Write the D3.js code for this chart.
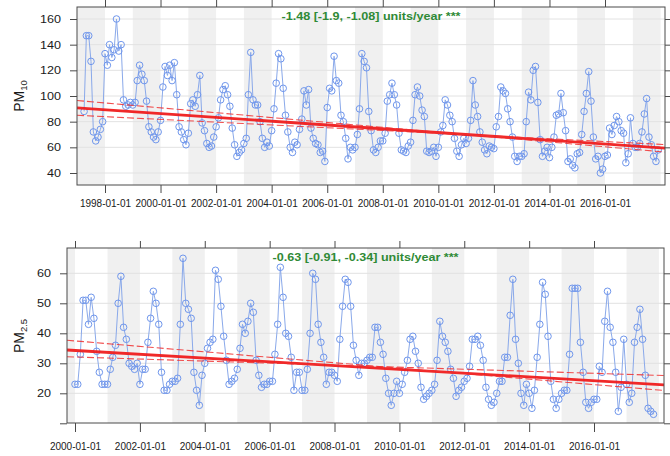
<!DOCTYPE html>
<html><head><meta charset="utf-8">
<script src="https://cdn.jsdelivr.net/npm/d3@7"></script>
<style>body{margin:0;background:#fff}</style>
</head><body>
<svg id="c" width="670" height="456"></svg>
<script>
// ---------------- DATA ----------------
const pm10Start = "1997-04-01";
const pm10Values = [
  88,147,147,127,72,65,68,74,80,
  133,124,140,130,136,160,135,140,97,92,93,95,
  93,95,112,124,117,112,96,76,72,68,66,72,
  81,107,123,116,124,112,126,101,76,72,66,62,
  71,94,97,92,101,116,79,73,63,60,61,68,
  76,83,97,105,108,101,92,75,62,53,56,58,
  63,67,101,134,97,93,93,80,67,60,64,61,
  73,90,110,133,129,106,85,72,60,56,64,62,
  74,82,104,93,105,75,67,63,62,56,57,49,
  91,106,104,131,112,110,85,80,67,51,60,58,
  60,70,90,133,127,122,88,73,58,56,60,65,
  65,71,96,101,110,101,93,71,58,57,56,61,
  64,81,101,107,100,89,84,57,56,57,60,53,
  60,72,77,97,93,85,80,67,57,53,62,67,
  63,67,81,112,93,84,72,64,58,55,61,60,
  59,76,84,107,104,102,90,80,68,53,49,53,
  53,55,80,103,97,120,123,95,66,53,57,60,
  52,60,68,85,86,102,87,73,49,51,46,44,
  55,56,70,88,102,119,96,68,51,53,40,43,
  53,54,75,70,77,84,80,73,71,48,55,83,
  63,60,60,63,72,86,98,68,62,53,49,58
];
const pm25Start = "2000-01-01";
const pm25Values = [
  23,23,33,51,51,43,52,45,34,27,23,23,
  23,28,32,36,50,59,42,38,30,29,28,30,
  23,28,28,37,45,54,50,43,27,21,21,23,
  24,24,25,43,65,50,48,45,27,21,16,26,
  30,35,37,38,61,58,49,39,31,23,24,25,
  28,35,43,40,44,50,47,31,26,22,23,23,
  24,24,33,43,62,52,40,39,32,21,27,27,
  21,21,28,40,60,58,43,37,32,23,27,27,
  26,24,38,49,58,57,49,36,31,26,30,30,
  31,32,32,42,42,37,33,25,20,16,20,24,
  20,23,27,31,38,39,34,30,22,18,19,20,
  21,23,31,44,39,37,34,28,25,19,21,22,
  24,25,29,38,38,39,36,31,22,18,16,17,
  20,24,24,32,32,46,58,38,30,20,16,23,
  20,15,21,32,43,57,53,39,24,18,15,18,
  20,21,21,33,55,55,55,37,27,17,15,17,
  18,18,29,27,44,54,42,37,27,14,22,38,
  23,17,20,37,42,48,38,26,15,14,13
];
const pm10YTicks = [40,60,80,100,120,140,160];
const pm25YTicks = [10,20,30,40,50,60];
const pm25YHidden = [10];
const pm10DateTicks = ["1998-01-01","2000-01-01","2002-01-01","2004-01-01","2006-01-01","2008-01-01","2010-01-01","2012-01-01","2014-01-01","2016-01-01"];
const pm25DateTicks = ["2000-01-01","2002-01-01","2004-01-01","2006-01-01","2008-01-01","2010-01-01","2012-01-01","2014-01-01","2016-01-01"];
// slopes (units/year): trend, lower, upper
const pm10Slopes = [-1.48, -1.9, -1.08];
const pm25Slopes = [-0.63, -0.91, -0.34];
// a point each line passes through: [date, value]
const pm10Anchors = [["2007-07-01", 75.2], ["1997-01-01", 96.5], ["1997-01-01", 85.0]];
const pm25Anchors = [["2009-01-01", 28.6], ["2011-07-01", 27.0], ["2007-07-01", 29.55]];
const pm10Label = "-1.48 [-1.9, -1.08] units/year ***";
const pm25Label = "-0.63 [-0.91, -0.34] units/year ***";

// ---------------- DRAW ----------------
const parse = d3.utcParse("%Y-%m-%d");
const fmt = d3.utcFormat("%Y-%m-%d");
const svg = d3.select("#c");
const FONT = "'Liberation Sans', Arial, sans-serif";
const SX = 1.2;

function series(start, vals) {
  const s = parse(start);
  return vals.map((v, i) => ({date: d3.utcMonth.offset(s, i), v}));
}

function panel(o) {
  const {box} = o;
  const x = d3.scaleUtc().domain([parse(o.xRef[0]), parse(o.xRef[1])]).range(o.xRefPx);
  x.domain([x.invert(box.l), x.invert(box.r)]).range([box.l, box.r]);
  const y = d3.scaleLinear().domain(o.yRef).range(o.yRefPx);
  y.domain([y.invert(box.b), y.invert(box.t)]).range([box.b, box.t]);

  const g = svg.append("g");
  const cid = "clip" + o.id;
  g.append("clipPath").attr("id", cid).append("rect")
    .attr("x", box.l).attr("y", box.t).attr("width", box.r - box.l).attr("height", box.b - box.t);
  const inner = g.append("g").attr("clip-path", `url(#${cid})`);

  // shading of alternate years
  const y0 = x.domain()[0].getUTCFullYear(), y1 = x.domain()[1].getUTCFullYear();
  const years = d3.range(y0, y1 + 1).filter(yr => yr % 2 === 1);
  inner.selectAll("rect.shade").data(years).join("rect").attr("class", "shade")
    .attr("x", yr => x(Date.UTC(yr, 0, 1)))
    .attr("width", yr => x(Date.UTC(yr + 1, 0, 1)) - x(Date.UTC(yr, 0, 1)))
    .attr("y", box.t).attr("height", box.b - box.t).attr("fill", "#f0f0f0");

  // horizontal grid
  inner.selectAll("line.grid").data(o.yTicks.filter(t => !o.hidden.includes(t))).join("line")
    .attr("x1", box.l).attr("x2", box.r).attr("y1", d => y(d)).attr("y2", d => y(d))
    .attr("stroke", "#e2e2e2").attr("stroke-width", 1);

  // data
  const data = series(o.start, o.values);
  inner.append("path").datum(data)
    .attr("d", d3.line().x(d => x(d.date)).y(d => y(d.v)))
    .attr("fill", "none").attr("stroke", "#8aa9ea").attr("stroke-width", 1);
  inner.selectAll("circle").data(data).join("circle")
    .attr("cx", d => x(d.date)).attr("cy", d => y(d.v)).attr("r", 3.3)
    .attr("fill", "none").attr("stroke", "#6f96ec").attr("stroke-width", 1);

  // trend + CI lines
  const msYear = 365.25 * 24 * 3600 * 1000;
  const [xa, xb] = x.domain();
  o.slopes.forEach((s, i) => {
    const ad = parse(o.anchors[i][0]), av = o.anchors[i][1];
    const val = d => av + s * (d - ad) / msYear;
    inner.append("line")
      .attr("x1", x(xa)).attr("y1", y(val(xa)))
      .attr("x2", x(xb)).attr("y2", y(val(xb)))
      .attr("stroke", i === 0 ? "#f01e1e" : "#f03030")
      .attr("stroke-width", i === 0 ? 2.8 : 1.1)
      .attr("stroke-dasharray", i === 0 ? null : "7,3")
      .attr("opacity", i === 0 ? 0.95 : 0.85);
  });

  // border
  g.append("rect").attr("x", box.l).attr("y", box.t)
    .attr("width", box.r - box.l).attr("height", box.b - box.t)
    .attr("fill", "none").attr("stroke", "#4a4a4a").attr("stroke-width", 1);

  const dates = o.dateTicks.map(parse);
  const styleAxis = (ax) => {
    ax.select(".domain").remove();
    ax.selectAll("line").attr("stroke", "#4a4a4a");
    ax.selectAll("text").attr("font-family", FONT).attr("font-size", 10.5).attr("fill", "#1a1a1a");
  };
  // bottom
  const axB = g.append("g").attr("transform", `translate(0,${box.b})`)
    .call(d3.axisBottom(x).tickValues(dates).tickFormat(fmt).tickSizeInner(o.xTick).tickSizeOuter(0).tickPadding(o.xPad));
  styleAxis(axB);
  axB.selectAll("text").attr("font-size", 10);
  // top
  const axT = g.append("g").attr("transform", `translate(0,${box.t})`)
    .call(d3.axisTop(x).tickValues(dates).tickFormat("").tickSizeInner(7).tickSizeOuter(0));
  styleAxis(axT);
  // left
  const axL = g.append("g").attr("transform", `translate(${box.l},0)`)
    .call(d3.axisLeft(y).tickValues(o.yTicks).tickFormat(d => o.hidden.includes(d) ? "" : d)
      .tickSizeInner(7).tickSizeOuter(0));
  styleAxis(axL);
  axL.selectAll("text").attr("x", null).attr("transform", `translate(-16,0) scale(${SX},1)`);
  // right
  const axR = g.append("g").attr("transform", `translate(${box.r},0)`)
    .call(d3.axisRight(y).tickValues(o.yTicks).tickFormat("").tickSizeInner(6).tickSizeOuter(0));
  styleAxis(axR);

  // trend text
  g.append("text").attr("transform", `translate(${(box.l + box.r) / 2},${o.textY}) scale(${SX},1)`)
    .attr("text-anchor", "middle").attr("font-family", FONT).attr("font-size", 10.5)
    .attr("font-weight", "bold").attr("fill", "#2f8a36").text(o.label);

  // y title
  const t = g.append("text").attr("transform", `translate(${o.ylabX},${o.ylabY}) rotate(-90)`)
    .attr("text-anchor", "middle").attr("font-family", FONT).attr("font-size", 14).attr("fill", "#1a1a1a");
  t.append("tspan").text("PM");
  t.append("tspan").attr("font-size", 9.5).attr("dy", 3).text(o.sub);
}

panel({
  id: 1, box: {l: 77, r: 665, t: 7, b: 185},
  xRef: ["1998-01-01", "2016-01-01"], xRefPx: [105, 605],
  yRef: [40, 160], yRefPx: [173, 19],
  start: pm10Start, values: pm10Values, yTicks: pm10YTicks, hidden: [],
  dateTicks: pm10DateTicks, slopes: pm10Slopes, anchors: pm10Anchors,
  label: pm10Label, textY: 20, xTick: 8, xPad: 7,
  ylabX: 24, ylabY: 96, sub: "10"
});
panel({
  id: 2, box: {l: 67, r: 664, t: 248, b: 423},
  xRef: ["2000-01-01", "2016-01-01"], xRefPx: [75, 594],
  yRef: [20, 60], yRefPx: [393.3, 273.3],
  start: pm25Start, values: pm25Values, yTicks: pm25YTicks, hidden: pm25YHidden,
  dateTicks: pm25DateTicks, slopes: pm25Slopes, anchors: pm25Anchors,
  label: pm25Label, textY: 261, xTick: 9, xPad: 11,
  ylabX: 24, ylabY: 336, sub: "2.5"
});
</script>
</body></html>
